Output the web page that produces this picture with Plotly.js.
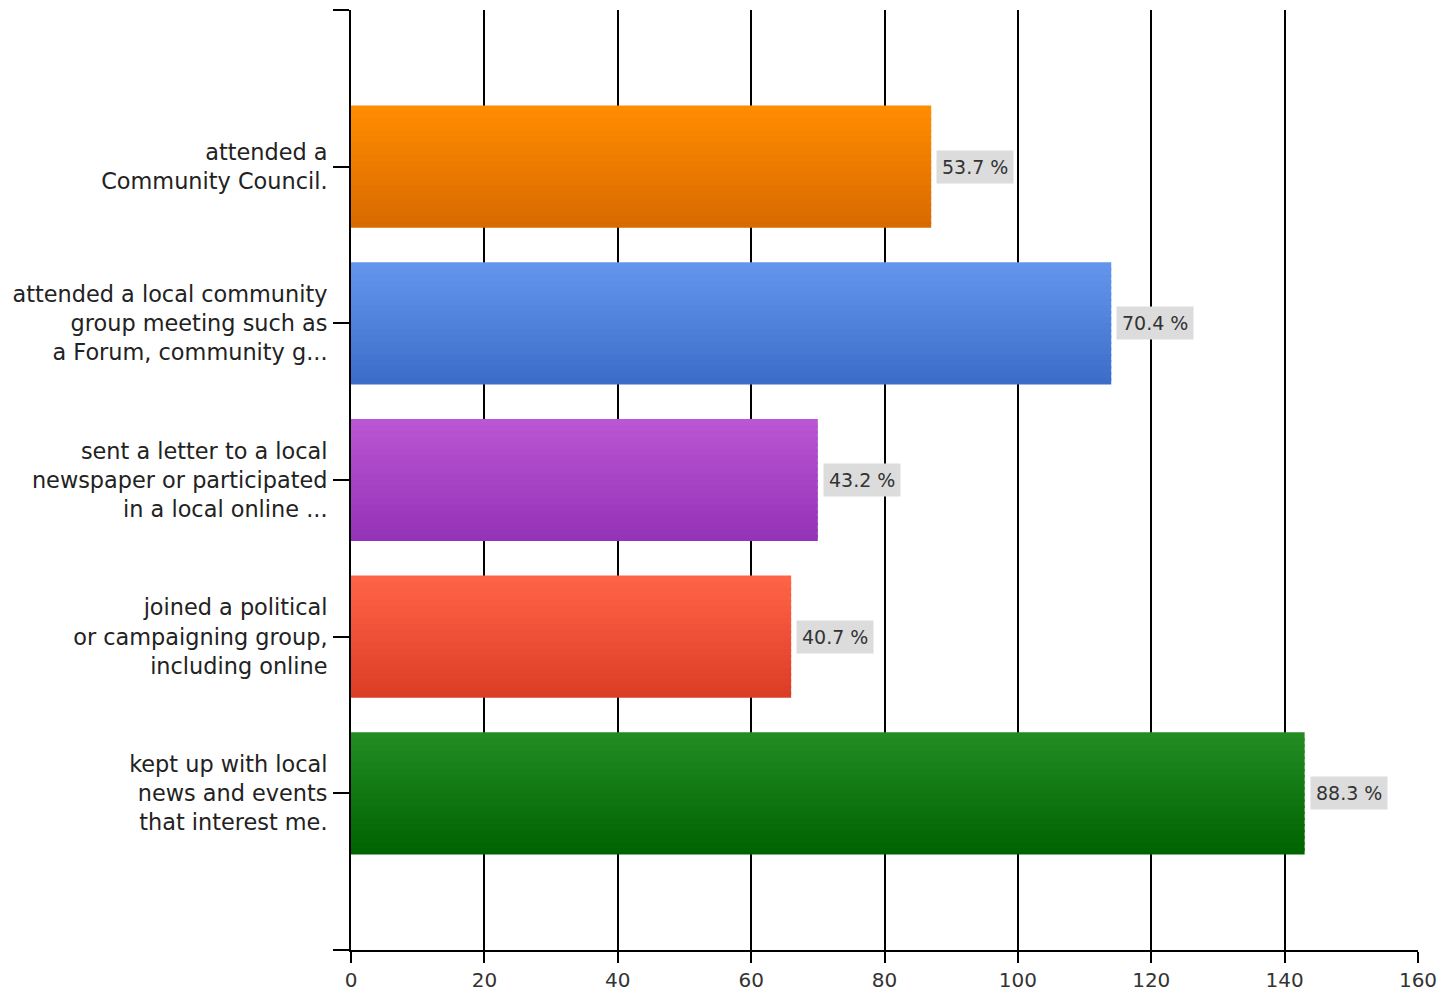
<!DOCTYPE html>
<html>
<head>
<meta charset="utf-8">
<script src="https://cdn.plot.ly/plotly-3.0.1.min.js"></script>
<style>html,body{margin:0;padding:0;background:#fff;}#chart{width:1445px;height:991px;}</style>
</head>
<body>
<div id="chart"></div>
<script>
// Data
const categories = [
  "attended a<br>Community Council.",
  "attended a local community<br>group meeting such as<br>a Forum, community g...",
  "sent a letter to a local<br>newspaper or participated<br>in a local online ...",
  "joined a political<br>or campaigning group,<br>including online",
  "kept up with local<br>news and events<br>that interest me."
];
const counts = [87, 114, 70, 66, 143];
const percentLabels = ["53.7 %", "70.4 %", "43.2 %", "40.7 %", "88.3 %"];
const xTickVals = [0, 20, 40, 60, 80, 100, 120, 140, 160];

// Styles (gradient top -> bottom per bar)
const topColors = ["#ff8c00", "#6495ed", "#ba55d3", "#ff6347", "#228b22"];
const botColors = ["#d96a00", "#3c6ec9", "#9433b8", "#dc3d25", "#006400"];

function hexToRgb(h){h=h.replace('#','');return [parseInt(h.substr(0,2),16),parseInt(h.substr(2,2),16),parseInt(h.substr(4,2),16)];}
function mix(a,b,t){const A=hexToRgb(a),B=hexToRgb(b);return 'rgb('+A.map((v,i)=>Math.round(v+(B[i]-v)*t)).join(',')+')';}

const yIdx = categories.map((c,i)=>i);
const barW = 0.78;
const strips = 20;
const stripW = barW/strips;
const traces = [];
for (let s = 0; s < strips; s++) {
  const t = s/(strips-1);
  const last = (s === strips-1);
  traces.push({
    type: 'bar',
    orientation: 'h',
    x: counts,
    y: yIdx,
    width: last ? stripW : stripW + 0.015,
    offset: -barW/2 + s*stripW,
    marker: {color: topColors.map((c,i)=>mix(c, botColors[i], t)), line:{width:0}},
    hoverinfo: 'skip',
    showlegend: false
  });
}

const annotations = counts.map((v,i)=>({
  x: v, y: i, xref:'x', yref:'y',
  text: percentLabels[i],
  showarrow: false,
  xanchor: 'left', yanchor: 'middle',
  xshift: 5,
  bgcolor: '#dcdcdc',
  borderpad: 5,
  font: {family: 'DejaVu Sans, sans-serif', size: 19, color: '#333'}
}));

const layout = {
  width: 1445, height: 991,
  margin: {l: 351, r: 27, t: 10, b: 41},
  paper_bgcolor: '#fff', plot_bgcolor: '#fff',
  barmode: 'overlay',
  showlegend: false,
  font: {family: 'DejaVu Sans, sans-serif', size: 19, color: '#222'},
  xaxis: {
    range: [0, 160],
    tickmode: 'array', tickvals: xTickVals,
    showgrid: true, gridcolor: '#000', gridwidth: 2,
    showline: true, linecolor: '#000', linewidth: 2,
    ticks: 'outside', ticklen: 11, tickwidth: 2, tickcolor: '#000',
    zeroline: false,
    tickfont: {size: 20, color: '#333'},
    fixedrange: true
  },
  yaxis: {
    range: [5, -1],
    tickmode: 'array',
    tickvals: [-1, 0, 1, 2, 3, 4, 5],
    ticktext: [''].concat(categories).concat(['']),
    showgrid: false, zeroline: false,
    showline: true, linecolor: '#000', linewidth: 2,
    ticks: 'outside', ticklen: 16, tickwidth: 2, tickcolor: '#000',
    ticklabelstandoff: 1,
    tickfont: {size: 22.4, color: '#222'},
    fixedrange: true
  },
  annotations: annotations
};

Plotly.newPlot('chart', traces, layout, {displayModeBar: false, staticPlot: true});
</script>
</body>
</html>
